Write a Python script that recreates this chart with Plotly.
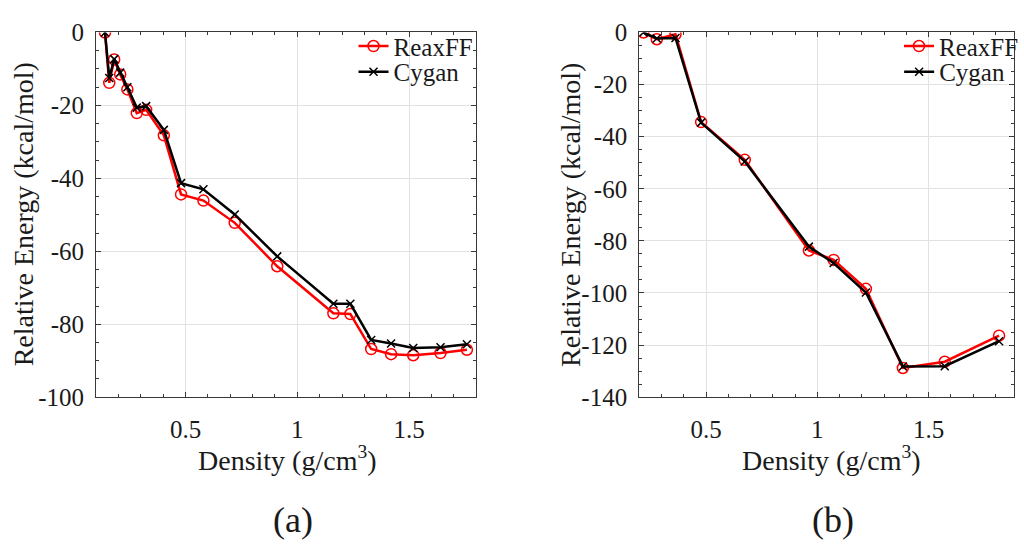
import plotly.graph_objects as go

# ---------------- data ----------------
density_a = [0.14, 0.159, 0.181, 0.208, 0.240, 0.282, 0.324, 0.403, 0.480, 0.580,
             0.720, 0.910, 1.161, 1.237, 1.330, 1.419, 1.518, 1.640, 1.758]
reaxff_a = [0.0, -13.8, -7.4, -11.5, -15.6, -22.1, -21.2, -28.2, -44.4, -46.1,
            -52.2, -64.1, -77.0, -77.2, -86.8, -88.2, -88.5, -87.9, -87.0]
cygan_a = [0.0, -12.5, -7.3, -11.0, -15.0, -20.6, -20.2, -26.7, -41.3, -43.0,
           -49.9, -61.4, -74.4, -74.4, -84.3, -85.3, -86.5, -86.3, -85.5]

density_b = [0.219, 0.279, 0.363, 0.478, 0.674, 0.962, 1.073, 1.218, 1.384, 1.572, 1.816]
reaxff_b = [0.0, -2.6, -0.7, -34.4, -48.9, -83.7, -87.3, -98.4, -128.8, -126.4, -116.4]
cygan_b = [0.0, -2.3, -2.1, -34.6, -49.5, -82.2, -88.5, -99.8, -128.2, -128.1, -118.5]

x_ticks = [0.5, 1, 1.5]
x_tick_labels = ["0.5", "1", "1.5"]
y_ticks_a = [0, -20, -40, -60, -80, -100]
y_tick_labels_a = ["0", "-20", "-40", "-60", "-80", "-100"]
y_ticks_b = [0, -20, -40, -60, -80, -100, -120, -140]
y_tick_labels_b = ["0", "-20", "-40", "-60", "-80", "-100", "-120", "-140"]

# ---------------- style ----------------
FONT = "Liberation Serif"
TXT = "#1a1a1a"
AX = "#3a3a3a"
GRID = "#e2e2e2"
W, H = 1024, 550

def px_x(p):
    return p / W

def px_y(p):
    return 1 - p / H

fig = go.Figure()

def add_pair(x, r, c, xa, ya, lg_r, lg_c):
    fig.add_trace(go.Scatter(
        x=x, y=r, mode="lines+markers", name="ReaxFF",
        line=dict(color="#ff0000", width=2.5),
        marker=dict(symbol="circle-open", size=11, color="#ff0000", line=dict(width=1.5)),
        xaxis=xa, yaxis=ya, legend=lg_r))
    fig.add_trace(go.Scatter(
        x=x, y=c, mode="lines+markers", name="Cygan",
        line=dict(color="#000000", width=2.5),
        marker=dict(symbol="x-thin-open", size=8, color="#000000", line=dict(width=1.5)),
        xaxis=xa, yaxis=ya, legend=lg_c))

add_pair(density_a, reaxff_a, cygan_a, "x", "y", "legend", "legend2")
add_pair(density_b, reaxff_b, cygan_b, "x2", "y2", "legend3", "legend4")

ydom = [px_y(404), px_y(20.5)]

common_axis = dict(
    showline=True, linecolor=AX, linewidth=1, mirror="ticks",
    ticks="inside", ticklen=5, tickcolor=AX, tickwidth=1,
    showgrid=True, gridcolor=GRID, gridwidth=1, zeroline=False,
    tickfont=dict(family=FONT, size=25, color=TXT),
)

fig.update_layout(
    width=W, height=H,
    font=dict(family=FONT, size=25, color=TXT),
    margin=dict(l=0, r=0, t=0, b=0),
    paper_bgcolor="white", plot_bgcolor="white",
    showlegend=True,
    xaxis=dict(domain=[px_x(97), px_x(481)], range=[0.1, 1.8], anchor="y",
               tickvals=x_ticks, ticktext=x_tick_labels,
               minor=dict(dtick=0.1, tick0=0, ticks="inside", ticklen=3, tickcolor=AX, showgrid=False),
               ticklabelstandoff=10, **common_axis),
    yaxis=dict(domain=ydom, range=[-100, 0], anchor="x",
               tickvals=y_ticks_a, ticktext=y_tick_labels_a,
               minor=dict(dtick=5, tick0=0, ticks="inside", ticklen=3, tickcolor=AX, showgrid=False),
               ticklabelstandoff=6, **common_axis),
    xaxis2=dict(domain=[px_x(645.5), 1.0], range=[0.2, 1.883], anchor="y2",
                tickvals=x_ticks, ticktext=x_tick_labels,
                minor=dict(dtick=0.1, tick0=0, ticks="inside", ticklen=3, tickcolor=AX, showgrid=False),
                ticklabelstandoff=10, **common_axis),
    yaxis2=dict(domain=ydom, range=[-140, 0], anchor="x2",
                tickvals=y_ticks_b, ticktext=y_tick_labels_b,
                minor=dict(dtick=5, tick0=0, ticks="inside", ticklen=3, tickcolor=AX, showgrid=False),
                ticklabelstandoff=6, **common_axis),
)

def legend_box(xp, yp):
    return dict(x=px_x(xp), y=px_y(yp), xanchor="left", yanchor="middle",
                bgcolor="rgba(0,0,0,0)", borderwidth=0,
                font=dict(family=FONT, size=25, color=TXT))

fig.update_layout(
    legend=legend_box(357, 35),
    legend2=legend_box(357, 62),
    legend3=legend_box(908, 35),
    legend4=legend_box(908, 62),
)

annots = [
    dict(text="Relative Energy (kcal/mol)", x=px_x(24), y=px_y(212), textangle=-90),
    dict(text="Relative Energy (kcal/mol)", x=px_x(576), y=px_y(212), textangle=-90),
    dict(text="Density (g/cm<sup>3</sup>)", x=px_x(290), y=px_y(468)),
    dict(text="Density (g/cm<sup>3</sup>)", x=px_x(840), y=px_y(468)),
]
for a in annots:
    fig.add_annotation(xref="paper", yref="paper", showarrow=False,
                       xanchor="center", yanchor="middle",
                       font=dict(family=FONT, size=28, color=TXT), **a)

for lbl, xc in [("(a)", 296), ("(b)", 841)]:
    fig.add_annotation(text=lbl, xref="paper", yref="paper", x=px_x(xc), y=px_y(533),
                       showarrow=False, xanchor="center", yanchor="middle",
                       font=dict(family=FONT, size=36, color=TXT))

fig.write_html("out.html")
